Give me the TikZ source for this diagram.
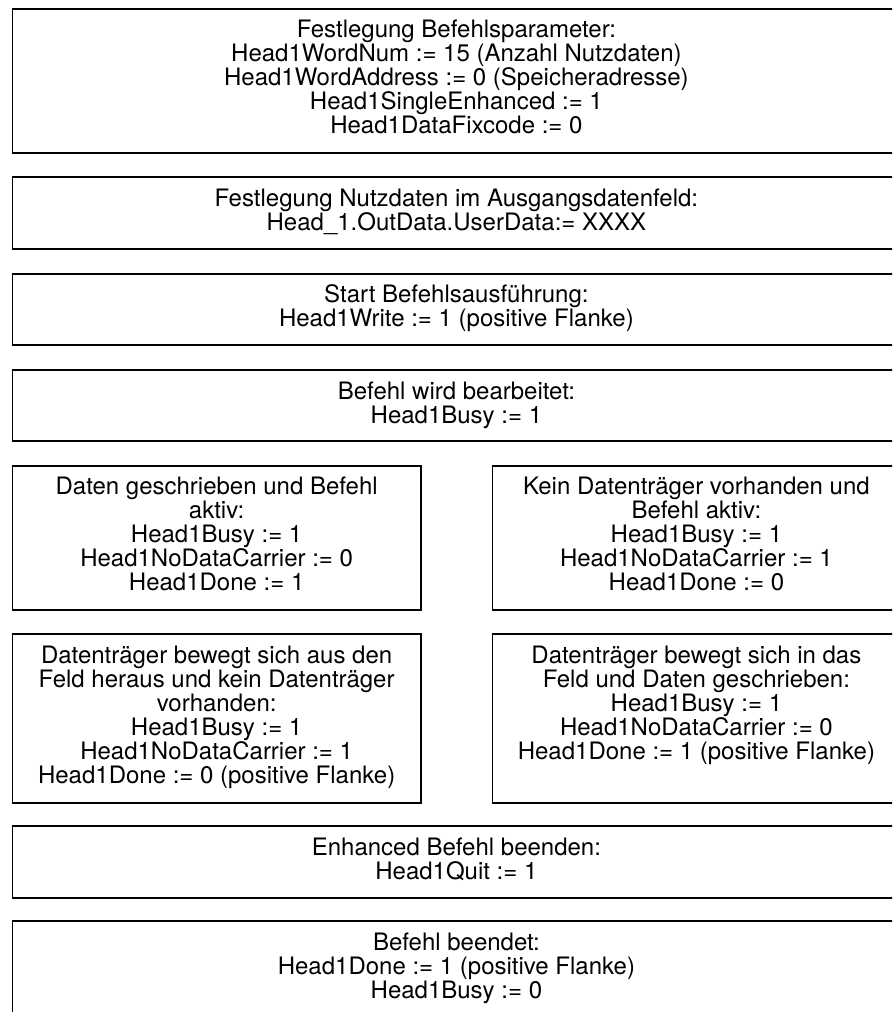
\documentclass[tikz,border=0pt]{standalone}
\usepackage{fontspec}
\setmainfont{TeX Gyre Heros}
\usetikzlibrary{calc}

\tikzset{
  stepbox/.style={draw=black, line width=1.8pt, rectangle, inner sep=0pt,
    anchor=north west},
  steptext/.style={inner sep=0pt, anchor=base,
    font=\fontsize{24}{24}\selectfont},
}
% centred, top-aligned block of lines: first baseline is the node's base
\newcommand{\stepblock}[2]{\parbox[t]{#1}{\centering #2}}

\begin{document}
\begin{tikzpicture}[x=1pt, y=-1pt]
  \useasboundingbox (0,0) rectangle (892,1012);
  \clip (0,0) rectangle (892,1012);
  \fill[white] (0,0) rectangle (892,1012);

  % full-width boxes (they run past the right and bottom edges)
  \node[stepbox, minimum width=888pt, minimum height=144pt] (b1) at (11.5,8) {};
  \node[stepbox, minimum width=888pt, minimum height=72pt]  (b2) at (11.5,176) {};
  \node[stepbox, minimum width=888pt, minimum height=71pt]  (b3) at (11.5,273) {};
  \node[stepbox, minimum width=888pt, minimum height=71pt]  (b4) at (11.5,369) {};
  % two columns
  \node[stepbox, minimum width=408.5pt, minimum height=144pt] (b5) at (11.5,465) {};
  \node[stepbox, minimum width=408pt, minimum height=144pt]   (b6) at (491.5,465) {};
  \node[stepbox, minimum width=408.5pt, minimum height=169pt] (b7) at (11.5,633) {};
  \node[stepbox, minimum width=408pt, minimum height=169pt]   (b8) at (491.5,633) {};
  % full-width again
  \node[stepbox, minimum width=888pt, minimum height=72pt]  (b9)  at (11.5,825) {};
  \node[stepbox, minimum width=888pt, minimum height=140pt] (b10) at (11.5,920) {};

  \node[steptext] (t1) at ($(b1.north)+(0,29.5)$) {\stepblock{620pt}{%
    Festlegung Befehlsparameter:\\
    Head1WordNum := 15 (Anzahl Nutzdaten)\\
    Head1WordAddress := 0 (Speicheradresse)\\
    Head1SingleEnhanced := 1\\
    Head1DataFixcode := 0}};
  \node[steptext] (t2) at ($(b2.north)+(0,30.5)$) {\stepblock{620pt}{%
    Festlegung Nutzdaten im Ausgangsdatenfeld:\\
    Head\_1.OutData.UserData:= XXXX}};
  \node[steptext] (t3) at ($(b3.north)+(0,29.5)$) {\stepblock{620pt}{%
    Start Befehlsausführung:\\
    Head1Write := 1 (positive Flanke)}};
  \node[steptext] (t4) at ($(b4.north)+(0,30)$) {\stepblock{620pt}{%
    Befehl wird bearbeitet:\\
    Head1Busy := 1}};

  \node[steptext] (t5) at ($(b5.north)+(0,29.5)$) {\stepblock{405pt}{%
    Daten geschrieben und Befehl\\
    aktiv:\\
    Head1Busy := 1\\
    Head1NoDataCarrier := 0\\
    Head1Done := 1}};
  \node[steptext] (t6) at ($(b6.north)+(0,29.5)$) {\stepblock{405pt}{%
    Kein Datenträger vorhanden und\\
    Befehl aktiv:\\
    Head1Busy := 1\\
    Head1NoDataCarrier := 1\\
    Head1Done := 0}};
  \node[steptext] (t7) at ($(b7.north)+(0,30)$) {\stepblock{405pt}{%
    Datenträger bewegt sich aus den\\
    Feld heraus und kein Datenträger\\
    vorhanden:\\
    Head1Busy := 1\\
    Head1NoDataCarrier := 1\\
    Head1Done := 0 (positive Flanke)}};
  \node[steptext] (t8) at ($(b8.north)+(0,30)$) {\stepblock{405pt}{%
    Datenträger bewegt sich in das\\
    Feld und Daten geschrieben:\\
    Head1Busy := 1\\
    Head1NoDataCarrier := 0\\
    Head1Done := 1 (positive Flanke)}};

  \node[steptext] (t9) at ($(b9.north)+(0,30)$) {\stepblock{620pt}{%
    Enhanced Befehl beenden:\\
    Head1Quit := 1}};
  \node[steptext] (t10) at ($(b10.north)+(0,30)$) {\stepblock{620pt}{%
    Befehl beendet:\\
    Head1Done := 1 (positive Flanke)\\
    Head1Busy := 0}};
\end{tikzpicture}
\end{document}
